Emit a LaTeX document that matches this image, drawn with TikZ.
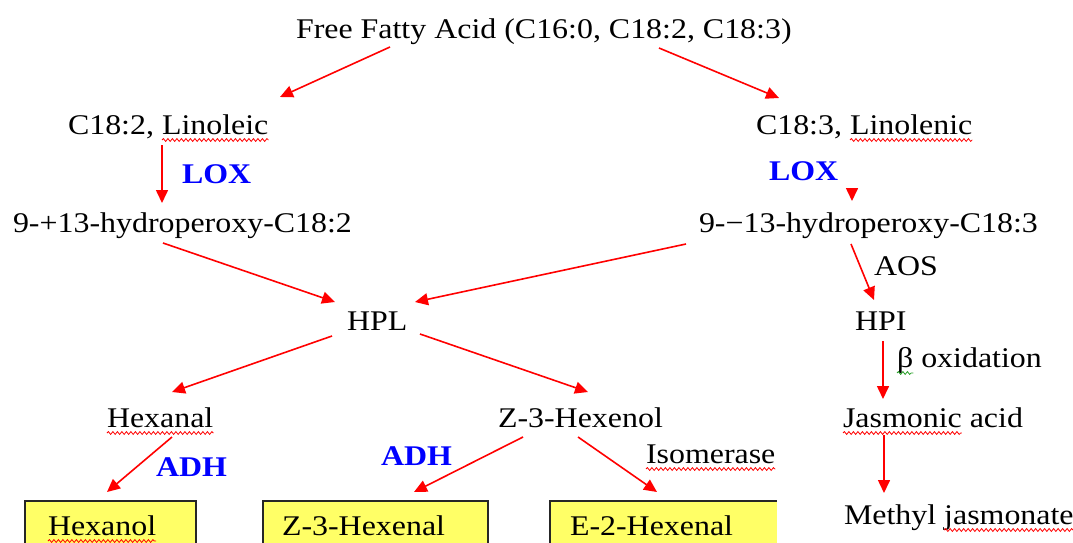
\documentclass[tikz,border=0pt]{standalone}
\usepackage{fontspec}
\setmainfont{Liberation Serif}[FakeStretch=1.12]
\usetikzlibrary{arrows.meta,decorations.pathmorphing}
\definecolor{arrowred}{RGB}{255,0,0}
\definecolor{enzblue}{RGB}{0,0,255}
\definecolor{boxyellow}{RGB}{255,255,102}
\definecolor{spellgreen}{RGB}{40,160,40}
\begin{document}
\begin{tikzpicture}[x=1pt,y=-1pt,
  txt/.style={anchor=base west,inner sep=0pt,outer sep=0pt,font=\fontsize{28.5}{34}\selectfont},
  enz/.style={txt,font=\fontsize{28.5}{34}\selectfont\bfseries,text=enzblue},
  after/.style={txt,xshift=8pt},
  arr/.style={draw=arrowred,line width=1.6pt,-{Triangle[length=13pt,width=12pt]}},
  prodbox/.style={fill=boxyellow,draw=black!85,line width=2pt},
  squig/.style={draw=#1,line width=0.8pt,decorate,
    decoration={snake,amplitude=1.4pt,segment length=4.5pt}},
  squig/.default=red]
\useasboundingbox (0,0) rectangle (1073,543);
\clip (0,0) rectangle (1073,543);

% product boxes
\draw[prodbox] (25,501) rectangle (196,570);
\draw[prodbox] (263,501) rectangle (488,570);
\fill[boxyellow] (550,501) rectangle (777,570);
\draw[black!85,line width=2pt] (550,570) -- (550,501) -- (777,501);

% compounds
\node[txt] (ffa)   at (296,38)  {Free Fatty Acid (C16:0, C18:2, C18:3)};
\node[txt] (lino)  at (68,134)  {C18:2,};
\node[after] (linoW) at (lino.base east) {Linoleic};
\node[txt] (linn)  at (756,134) {C18:3,};
\node[after] (linnW) at (linn.base east) {Linolenic};
\node[txt] (hp2)   at (13,232)  {9-+13-hydroperoxy-C18:2};
\node[txt] (hp3)   at (699,232) {9-−13-hydroperoxy-C18:3};
\node[txt] (hpl)   at (347,330) {HPL};
\node[txt] (hpi)   at (855,330) {HPI};
\node[txt] (hexal) at (107,427) {Hexanal};
\node[txt] (zhol)  at (498,427) {Z-3-Hexenol};
\node[txt] (ja)    at (843,427) {Jasmonic};
\node[after] (jaW) at (ja.base east) {acid};
\node[txt] (meja)  at (844,524) {Methyl};
\node[after] (mejaW) at (meja.base east) {jasmonate};
\node[txt] (hexol) at (48,535)  {Hexanol};
\node[txt] (zhal)  at (282,535) {Z-3-Hexenal};
\node[txt] (ehal)  at (570,535) {E-2-Hexenal};

% enzymes
\node[enz] (lox1) at (182,183) {LOX};
\node[enz] (lox2) at (769,180) {LOX};
\node[enz] (adh1) at (156,476) {ADH};
\node[enz] (adh2) at (381,465) {ADH};
\node[txt] (aos)  at (874,275) {AOS};
\node[txt] (iso)  at (646,463) {Isomerase};
\node[txt] (beta) at (897,367) {β};
\node[after] (oxid) at (beta.base east) {oxidation};

% wavy underlines
\foreach \w in {linoW,linnW,hexal,ja,mejaW,hexol,iso}
  \draw[squig] ([yshift=-6pt]\w.base west) -- ([yshift=-6pt]\w.base east);
\draw[squig=spellgreen] ([yshift=-6pt]beta.base west) -- ([yshift=-6pt]beta.base east);

% connector end points
\coordinate (ffaL)  at (390,47);   \coordinate (linoN) at (280,97);
\coordinate (ffaR)  at (659,48);   \coordinate (linnN) at (779,98);
\coordinate (linoS) at (162,145);  \coordinate (hp2N)  at (162,203);
\coordinate (linnS) at (852,188);  \coordinate (hp3N)  at (852,201);
\coordinate (hp3W)  at (686,244);  \coordinate (hplNE) at (415,302);
\coordinate (hp2S)  at (163,243);  \coordinate (hplNW) at (335,302);
\coordinate (hp3S)  at (851,244);  \coordinate (hpiN)  at (874,300);
\coordinate (hplSW) at (332,336);  \coordinate (hexalN) at (172,392);
\coordinate (hplSE) at (420,334);  \coordinate (zholN) at (588,392);
\coordinate (hpiS)  at (883,341);  \coordinate (jaN)   at (883,399);
\coordinate (hexalS) at (172,437); \coordinate (hexolN) at (107,492);
\coordinate (zholSW) at (523,437); \coordinate (zhalN) at (414,492);
\coordinate (zholSE) at (578,437); \coordinate (ehalN) at (657,492);
\coordinate (jaS)   at (884,435);  \coordinate (mejaN) at (884,493);

% reactions
\draw[arr] (ffaL) -- (linoN);
\draw[arr] (ffaR) -- (linnN);
\draw[arr] (linoS) -- (hp2N);
\draw[arr] (linnS) -- (hp3N);
\draw[arr] (hp3W) -- (hplNE);
\draw[arr] (hp2S) -- (hplNW);
\draw[arr] (hp3S) -- (hpiN);
\draw[arr] (hplSW) -- (hexalN);
\draw[arr] (hplSE) -- (zholN);
\draw[arr] (hpiS) -- (jaN);
\draw[arr] (hexalS) -- (hexolN);
\draw[arr] (zholSW) -- (zhalN);
\draw[arr] (zholSE) -- (ehalN);
\draw[arr] (jaS) -- (mejaN);
\end{tikzpicture}
\end{document}
